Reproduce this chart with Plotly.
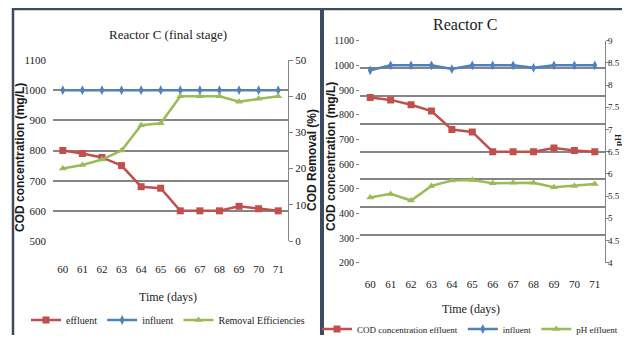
import plotly.graph_objects as go

# The page places the figure 8px in from the top-left corner (body margin);
# keep the page from overflowing the 630x343 window.
OFF = 8
W, H = 630 - 2 * OFF, 343 - 2 * OFF

# ---------------- data ----------------
days = [60, 61, 62, 63, 64, 65, 66, 67, 68, 69, 70, 71]

# Left panel: Reactor C (final stage)
left_effluent = [800, 790, 777, 750, 680, 675, 600, 600, 600, 615, 607, 600]
left_influent = [1000, 1000, 1000, 1000, 1000, 1000, 1000, 1000, 1000, 1000, 1000, 1000]
left_removal = [20, 21, 22.5, 25, 32, 32.5, 40, 40, 40, 38.5, 39.3, 40]

# Right panel: Reactor C
right_effluent = [870, 860, 840, 815, 740, 730, 650, 650, 650, 665, 655, 650]
right_influent = [980, 1000, 1000, 1000, 985, 1000, 1000, 1000, 990, 1000, 1000, 1000]
right_ph = [5.47, 5.55, 5.4, 5.73, 5.85, 5.86, 5.79, 5.8, 5.8, 5.7, 5.73, 5.77]

left_y_ticks = [500, 600, 700, 800, 900, 1000, 1100]
left_y2_ticks = [0, 10, 20, 30, 40, 50]
right_y_ticks = [200, 300, 400, 500, 600, 700, 800, 900, 1000, 1100]
right_y2_ticks = [4, 4.5, 5, 5.5, 6, 6.5, 7, 7.5, 8, 8.5, 9]

RED, BLUE, GREEN = "#C0504D", "#4F81BD", "#9BBB59"
GRID = "#858585"
SERIF = "Liberation Serif, Times New Roman, serif"
SANS = "Liberation Sans, Arial, sans-serif"
TXT = "#1a1a1a"


def px(x):
    return (x - OFF) / W


def py(y):
    return 1 - (y - OFF) / H


fig = go.Figure()

# left panel traces
fig.add_trace(go.Scatter(x=days, y=left_effluent, name="effluent", mode="lines+markers",
                         line=dict(color=RED, width=2.5), marker=dict(symbol="square", size=7, color=RED),
                         xaxis="x", yaxis="y", legend="legend"))
fig.add_trace(go.Scatter(x=days, y=left_influent, name="influent", mode="lines+markers",
                         line=dict(color=BLUE, width=2.5), marker=dict(symbol="diamond-tall", size=7, color=BLUE),
                         xaxis="x", yaxis="y", legend="legend"))
fig.add_trace(go.Scatter(x=days, y=left_removal, name="Removal Efficiencies", mode="lines+markers",
                         line=dict(color=GREEN, width=2.5), marker=dict(symbol="triangle-up", size=7, color=GREEN),
                         xaxis="x", yaxis="y2", legend="legend"))

# right panel traces
fig.add_trace(go.Scatter(x=days, y=right_effluent, name="COD concentration effluent", mode="lines+markers",
                         line=dict(color=RED, width=2.5), marker=dict(symbol="square", size=7, color=RED),
                         xaxis="x2", yaxis="y3", legend="legend2"))
fig.add_trace(go.Scatter(x=days, y=right_influent, name="influent", mode="lines+markers",
                         line=dict(color=BLUE, width=2.5), marker=dict(symbol="diamond-tall", size=7, color=BLUE),
                         xaxis="x2", yaxis="y3", legend="legend2"))
fig.add_trace(go.Scatter(x=days, y=right_ph, name="pH effluent", mode="lines+markers",
                         line=dict(color=GREEN, width=2.5), marker=dict(symbol="triangle-up", size=7, color=GREEN),
                         xaxis="x2", yaxis="y4", legend="legend2"))
# empty trace so the grid-only axis is drawn
fig.add_trace(go.Scatter(x=[], y=[], xaxis="x2", yaxis="y5", showlegend=False, hoverinfo="skip"))

tickfont = dict(family=SERIF, size=11, color=TXT)
tickfont_r = dict(family=SERIF, size=10, color=TXT)
tickfont_r2 = dict(family=SERIF, size=9, color=TXT)

fig.update_layout(
    width=W, height=H, autosize=False,
    margin=dict(l=0, r=0, t=0, b=0, pad=0, autoexpand=False),
    paper_bgcolor="white", plot_bgcolor="white",
    xaxis=dict(domain=[px(53), px(288)], anchor="y", range=[59.5, 71.5], tickvals=days,
               showgrid=False, zeroline=False, showline=False, ticks="",
               tickfont=tickfont, ticklabelstandoff=20),
    yaxis=dict(domain=[py(241), py(60)], anchor="x", range=[500, 1100], tickvals=left_y_ticks,
               showgrid=True, gridcolor=GRID, gridwidth=1.5, zeroline=False, showline=False, ticks="",
               tickfont=tickfont, ticklabelstandoff=6),
    yaxis2=dict(overlaying="y", side="right", anchor="x", range=[0, 50], tickvals=left_y2_ticks,
                showgrid=False, zeroline=False, showline=True, linecolor=GRID, linewidth=1.2,
                ticks="outside", ticklen=4, tickcolor=GRID, tickfont=tickfont),
    xaxis2=dict(domain=[px(360), px(605)], anchor="y3", range=[59.5, 71.5], tickvals=days,
                showgrid=False, zeroline=False, showline=False, ticks="",
                tickfont=tickfont, ticklabelstandoff=13),
    yaxis3=dict(domain=[py(262.7), py(40.7)], anchor="x2", range=[200, 1100], tickvals=right_y_ticks,
                showgrid=False, zeroline=False, showline=False, ticks="outside", ticklen=3, tickcolor=GRID,
                tickfont=tickfont_r),
    yaxis4=dict(overlaying="y3", side="right", anchor="x2", range=[4, 9], tickvals=right_y2_ticks,
                showgrid=False, zeroline=False, showline=True, linecolor=GRID, linewidth=1.2,
                ticks="outside", ticklen=3, tickcolor=GRID, tickfont=tickfont_r2, ticklabelstandoff=-3),
    yaxis5=dict(overlaying="y3", anchor="x2", range=[0, 8], dtick=1, showticklabels=False,
                showgrid=True, gridcolor=GRID, gridwidth=1.5, zeroline=False, showline=False, ticks=""),
    legend=dict(orientation="h", x=px(168), xanchor="center", y=py(320), yanchor="middle",
                font=dict(family=SERIF, size=10, color=TXT), itemwidth=30, bgcolor="rgba(0,0,0,0)"),
    legend2=dict(orientation="h", x=px(470), xanchor="center", y=py(329), yanchor="middle",
                 font=dict(family=SERIF, size=9, color=TXT), itemwidth=30, bgcolor="rgba(0,0,0,0)"),
    showlegend=True,
)

annotations = [
    dict(text="Reactor C (final stage)", x=px(168), y=py(35), font=dict(family=SERIF, size=13, color=TXT)),
    dict(text="Reactor C", x=px(465), y=py(25), font=dict(family=SERIF, size=16, color=TXT)),
    dict(text="Time (days)", x=px(168), y=py(297), font=dict(family=SERIF, size=12, color=TXT)),
    dict(text="Time (days)", x=px(471), y=py(309), font=dict(family=SERIF, size=12, color=TXT)),
    dict(text="<b>COD concentration (mg/L)</b>", x=px(20), y=py(158), textangle=-90,
         font=dict(family=SANS, size=12, color=TXT)),
    dict(text="<b>COD Removal (%)</b>", x=px(312), y=py(160), textangle=-90,
         font=dict(family=SANS, size=12, color=TXT)),
    dict(text="<b>COD concentration (mg/L)</b>", x=px(331), y=py(157), textangle=-90,
         font=dict(family=SANS, size=12, color=TXT)),
    dict(text="<b>pH</b>", x=px(611), y=py(140), xanchor="left", textangle=-90,
         font=dict(family=SERIF, size=9, color=TXT)),
]
for a in annotations:
    a.setdefault("xanchor", "center")
    a.update(xref="paper", yref="paper", showarrow=False, yanchor="middle")
fig.update_layout(annotations=annotations)

BORDER = "#3d4b60"
shapes = [
    dict(x0=px(12), x1=px(322), y0=py(9), y1=py(9), line=dict(color=BORDER, width=2.5)),
    dict(x0=px(13), x1=px(13), y0=py(8), y1=py(343), line=dict(color=BORDER, width=2.5)),
    dict(x0=px(322), x1=px(322), y0=py(8), y1=py(343), line=dict(color=BORDER, width=4)),
    dict(x0=px(322), x1=px(630), y0=py(9), y1=py(9), line=dict(color=BORDER, width=2.5)),
]
for s in shapes:
    s.update(type="line", xref="paper", yref="paper", layer="above")
fig.update_layout(shapes=shapes)

fig.write_html("out.html")
